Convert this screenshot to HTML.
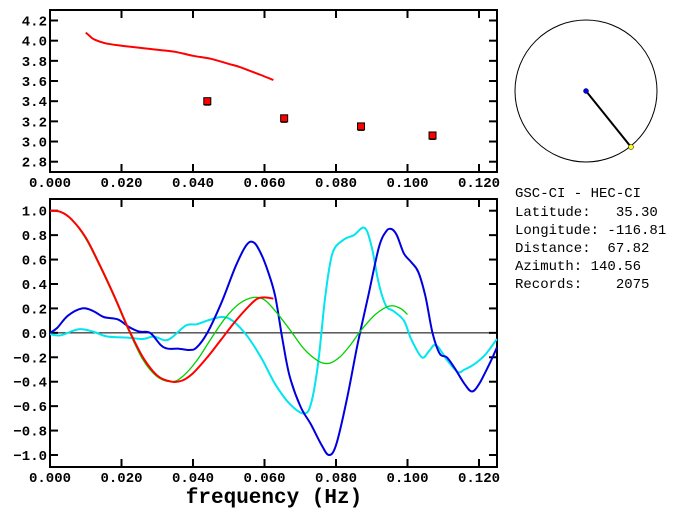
<!DOCTYPE html>
<html><head><meta charset="utf-8">
<style>
html,body{margin:0;padding:0;background:#fff;}
svg{display:block;font-family:"Liberation Mono","DejaVu Sans Mono",monospace;}
.tk{font-size:14px;font-weight:bold;fill:#000;}
.info{font-size:14px;fill:#000;}
</style></head>
<body>
<svg id="c" width="684" height="519" viewBox="0 0 684 519" xmlns="http://www.w3.org/2000/svg">
<g id="info">
<text class="info" x="515" y="197" xml:space="preserve">GSC-CI - HEC-CI</text>
<text class="info" x="515" y="216" xml:space="preserve">Latitude:   35.30</text>
<text class="info" x="515" y="234" xml:space="preserve">Longitude: -116.81</text>
<text class="info" x="515" y="252" xml:space="preserve">Distance:  67.82</text>
<text class="info" x="515" y="270" xml:space="preserve">Azimuth: 140.56</text>
<text class="info" x="515" y="288" xml:space="preserve">Records:    2075</text>
</g>
<g>
<circle cx="586" cy="91" r="71" fill="none" stroke="#000" stroke-width="1"/>
<line x1="586" y1="91" x2="631" y2="147" stroke="#000" stroke-width="2"/>
<circle cx="586" cy="91" r="2.5" fill="#00f" stroke="#000" stroke-width="0.5"/>
<circle cx="631" cy="147" r="2.5" fill="#ff0" stroke="#000" stroke-width="0.5"/>
</g>
</svg>
<script>
const xTicks=[0,0.02,0.04,0.06,0.08,0.1,0.12];
const xTickLabels=["0.000","0.020","0.040","0.060","0.080","0.100","0.120"];
const topTicks=[2.8,3.0,3.2,3.4,3.6,3.8,4.0,4.2];
const botTicks=[-1.0,-0.8,-0.6,-0.4,-0.2,0.0,0.2,0.4,0.6,0.8,1.0];
const velFreq=[0.010,0.011,0.012,0.014,0.016,0.020,0.025,0.030,0.035,0.040,0.045,0.050,0.053,0.056,0.059,0.0625];
const velVal=[4.08,4.05,4.02,3.99,3.97,3.95,3.93,3.91,3.89,3.85,3.82,3.77,3.74,3.70,3.66,3.61];
const ptFreq=[0.044,0.0655,0.087,0.107];
const ptVal=[3.40,3.23,3.15,3.06];
const blueF=[0,0.002,0.005,0.009,0.012,0.015,0.019,0.022,0.025,0.028,0.031,0.033,0.036,0.039,0.041,0.044,0.048,0.052,0.055,0.057,0.059,0.061,0.063,0.065,0.067,0.070,0.073,0.076,0.078,0.080,0.083,0.086,0.089,0.092,0.094,0.0955,0.097,0.099,0.101,0.103,0.105,0.107,0.109,0.111,0.113,0.116,0.118,0.120,0.123,0.125];
const blueV=[0,0.04,0.14,0.2,0.18,0.13,0.11,0.05,0.01,0.0,-0.1,-0.13,-0.13,-0.14,-0.12,0.0,0.25,0.55,0.72,0.74,0.65,0.5,0.3,-0.05,-0.35,-0.6,-0.75,-0.92,-1.0,-0.92,-0.55,-0.1,0.3,0.7,0.83,0.85,0.8,0.65,0.58,0.5,0.3,0.0,-0.17,-0.2,-0.28,-0.42,-0.48,-0.42,-0.25,-0.12];
const cyanF=[0,0.003,0.008,0.012,0.016,0.022,0.026,0.029,0.032,0.034,0.038,0.041,0.044,0.048,0.051,0.055,0.059,0.063,0.067,0.071,0.073,0.075,0.077,0.079,0.082,0.085,0.088,0.090,0.092,0.094,0.096,0.099,0.101,0.104,0.106,0.108,0.111,0.114,0.116,0.119,0.122,0.125];
const cyanV=[-0.01,-0.02,0.03,0.01,-0.03,-0.04,-0.05,-0.03,-0.06,-0.04,0.06,0.07,0.1,0.13,0.1,-0.02,-0.2,-0.42,-0.58,-0.66,-0.58,-0.25,0.3,0.65,0.76,0.8,0.86,0.7,0.4,0.22,0.18,0.1,-0.05,-0.2,-0.15,-0.1,-0.22,-0.32,-0.3,-0.25,-0.17,-0.05];
const redF=[0,0.003,0.006,0.010,0.014,0.018,0.022,0.026,0.030,0.034,0.037,0.040,0.044,0.048,0.052,0.056,0.058,0.060,0.0625];
const redV=[1.0,0.99,0.93,0.78,0.55,0.3,0.03,-0.2,-0.35,-0.4,-0.39,-0.33,-0.2,-0.05,0.1,0.23,0.28,0.29,0.28];
const greenF=[0,0.003,0.006,0.010,0.014,0.018,0.022,0.026,0.030,0.034,0.037,0.041,0.045,0.049,0.053,0.057,0.060,0.063,0.067,0.071,0.075,0.078,0.081,0.084,0.087,0.091,0.095,0.098,0.100];
const greenV=[1.0,0.99,0.93,0.77,0.54,0.29,0.02,-0.22,-0.36,-0.4,-0.36,-0.23,-0.05,0.12,0.24,0.29,0.27,0.18,0.03,-0.13,-0.23,-0.25,-0.2,-0.1,0.02,0.15,0.22,0.2,0.15];

const NS="http://www.w3.org/2000/svg";
const svg=document.getElementById('c');
const L=50,R=497;
const xs=f=>L+f*(479-50)/0.12;
const yTop=v=>20.5+(4.2-v)*(161.7-20.5)/1.4;
const yBot=v=>210.7+(1.0-v)*(455-210.7)/2.0;
function el(t,a,p){const e=document.createElementNS(NS,t);for(const k in a)e.setAttribute(k,a[k]);(p||svg).appendChild(e);return e;}
function smooth(P){
  let d='M'+P[0][0].toFixed(1)+','+P[0][1].toFixed(1);
  for(let i=0;i<P.length-1;i++){
    const p0=P[i-1]||P[i],p1=P[i],p2=P[i+1],p3=P[i+2]||p2;
    const c1=[p1[0]+(p2[0]-p0[0])/6,p1[1]+(p2[1]-p0[1])/6];
    const c2=[p2[0]-(p3[0]-p1[0])/6,p2[1]-(p3[1]-p1[1])/6];
    d+=' C'+c1.map(v=>v.toFixed(1)).join(',')+' '+c2.map(v=>v.toFixed(1)).join(',')+' '+p2[0].toFixed(1)+','+p2[1].toFixed(1);
  }
  return d;
}
function line(F,V,ys,col,w,name){
  const pl=el('path',{d:smooth(F.map((f,i)=>[xs(f),ys(V[i])])),fill:'none',stroke:col,'stroke-width':w,'stroke-linejoin':'round'});
  
  
}
function frame(top,bot,ys,ticks,tickName){
  const r=el('rect',{x:L,y:top,width:R-L,height:bot-top,fill:'none',stroke:'#000','stroke-width':2});
  
  
  xTicks.forEach((t,i)=>{
    const x=xs(t);
    el('line',{x1:x,y1:top,x2:x,y2:top+8,stroke:'#000','stroke-width':2});
    el('line',{x1:x,y1:bot,x2:x,y2:bot-8,stroke:'#000','stroke-width':2});
    const tx=el('text',{x:x,y:bot+15,'text-anchor':'middle',class:'tk'});
    tx.textContent=xTickLabels[i];
    
    
  });
  ticks.forEach(t=>{
    const y=ys(t);
    el('line',{x1:L,y1:y,x2:L+8,y2:y,stroke:'#000','stroke-width':2});
    el('line',{x1:R,y1:y,x2:R-8,y2:y,stroke:'#000','stroke-width':2});
    const tx=el('text',{x:L-3,y:y+5,'text-anchor':'end',class:'tk'});
    tx.textContent=(Math.abs(t)<1e-9?0:t).toFixed(1).replace('-','\u2212');
    
    
  });
}
frame(10,172,yTop,topTicks,'velocity-panel');
line(velFreq,velVal,yTop,'#f00',2,'group-velocity-curve');
ptFreq.forEach((f,i)=>{
  const x=xs(f),y=yTop(ptVal[i]);
  el('line',{x1:x-3,y1:y+4,x2:x+3,y2:y+4,stroke:'#000','stroke-width':1});
  const r=el('rect',{x:x-3.5,y:y-3.5,width:7,height:7,fill:'#f00',stroke:'#000','stroke-width':1});
  
  
});
frame(199,467,yBot,botTicks,'coherency-panel');
const z=el('line',{x1:L,y1:yBot(0),x2:R,y2:yBot(0),stroke:'#000','stroke-width':1});


line(cyanF,cyanV,yBot,'#00e5ee',2,'cyan-series');
line(blueF,blueV,yBot,'#0000e0',2,'blue-series');
line(greenF,greenV,yBot,'#00d000',1.3,'green-series');
line(redF,redV,yBot,'#f00',2,'red-series');
const xl=el('text',{x:274,y:503,'text-anchor':'middle','font-size':'21','font-weight':'bold'});
xl.textContent='frequency (Hz)';


</script>
</body></html>
